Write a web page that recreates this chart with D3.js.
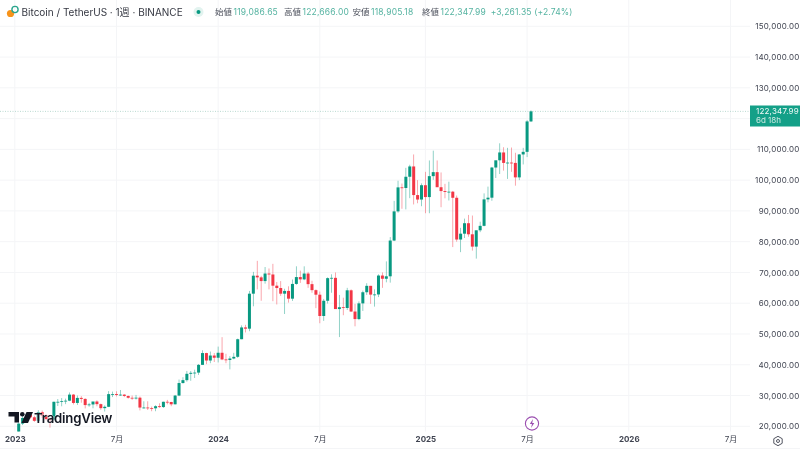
<!DOCTYPE html>
<html>
<head>
<meta charset="utf-8">
<script src="https://cdn.jsdelivr.net/npm/d3@7"></script>
<style>
  html, body { margin: 0; padding: 0; background: #fff; }
  svg { display: block; font-family: Inter, "Noto Sans CJK JP", sans-serif; filter: blur(0.5px); }
</style>
</head>
<body>
<div id="chart"></div>
<script>
// weekly candles, BTC/USDT
var weeks = [
  "2023-01-09","2023-01-16","2023-01-23","2023-01-30","2023-02-06","2023-02-13","2023-02-20","2023-02-27",
  "2023-03-06","2023-03-13","2023-03-20","2023-03-27","2023-04-03","2023-04-10","2023-04-17","2023-04-24",
  "2023-05-01","2023-05-08","2023-05-15","2023-05-22","2023-05-29","2023-06-05","2023-06-12","2023-06-19",
  "2023-06-26","2023-07-03","2023-07-10","2023-07-17","2023-07-24","2023-07-31","2023-08-07","2023-08-14",
  "2023-08-21","2023-08-28","2023-09-04","2023-09-11","2023-09-18","2023-09-25","2023-10-02","2023-10-09",
  "2023-10-16","2023-10-23","2023-10-30","2023-11-06","2023-11-13","2023-11-20","2023-11-27","2023-12-04",
  "2023-12-11","2023-12-18","2023-12-25",
  "2024-01-01","2024-01-08","2024-01-15","2024-01-22","2024-01-29","2024-02-05","2024-02-12","2024-02-19",
  "2024-02-26","2024-03-04","2024-03-11","2024-03-18","2024-03-25","2024-04-01","2024-04-08","2024-04-15",
  "2024-04-22","2024-04-29","2024-05-06","2024-05-13","2024-05-20","2024-05-27","2024-06-03","2024-06-10",
  "2024-06-17","2024-06-24","2024-07-01","2024-07-08","2024-07-15","2024-07-22","2024-07-29","2024-08-05",
  "2024-08-12","2024-08-19","2024-08-26","2024-09-02","2024-09-09","2024-09-16","2024-09-23","2024-09-30",
  "2024-10-07","2024-10-14","2024-10-21","2024-10-28","2024-11-04","2024-11-11","2024-11-18","2024-11-25",
  "2024-12-02","2024-12-09","2024-12-16","2024-12-23","2024-12-30",
  "2025-01-06","2025-01-13","2025-01-20","2025-01-27","2025-02-03","2025-02-10","2025-02-17","2025-02-24",
  "2025-03-03","2025-03-10","2025-03-17","2025-03-24","2025-03-31","2025-04-07","2025-04-14","2025-04-21",
  "2025-04-28","2025-05-05","2025-05-12","2025-05-19","2025-05-26","2025-06-02","2025-06-09","2025-06-16",
  "2025-06-23","2025-06-30","2025-07-07","2025-07-14"
];
var opens = [
  17127,20871,22707,23743,22930,21780,24631,23554,22350,22150,27968,27970,28170,28325,30300,27590,
  29230,28900,26900,27100,28060,27200,25900,26340,30460,30470,30170,30290,29860,29270,29050,29300,
  26090,26100,25880,25850,26530,26250,27970,27900,27150,29990,34060,35000,37060,37380,37450,39970,
  43800,41380,43000,
  42280,43900,41730,41550,42030,42580,48300,52130,51730,63100,68950,68400,67200,69650,69340,65700,
  64940,63100,64000,61480,66270,68500,67750,69650,66200,64250,62770,55850,60800,68150,68250,58100,
  58700,58450,64200,57300,54850,59950,63570,65650,62800,62850,69000,67950,68750,80370,89850,97650,
  97450,101100,104450,95150,93700,
  98350,94500,101300,102600,97700,96450,96150,96250,94270,80700,82600,86000,82400,78400,83700,85150,
  93750,94300,104100,106450,109000,105600,105700,105600,100900,108350,109200,119086
];
var highs = [
  21258,23371,23816,24255,23440,25250,25130,23880,22600,28000,28868,29190,29000,31000,30500,30000,
  29800,29100,27600,27500,28450,27400,26800,31431,31280,31380,31800,30450,29990,30000,30200,29680,
  28140,28140,26400,26840,27480,28000,28580,27950,30200,35200,35950,38000,37970,38400,40250,44700,
  43900,44300,43800,
  45900,48970,43570,42800,43880,48500,52800,52980,64000,70200,73777,68900,71770,71300,72800,66900,
  67200,64700,65500,67700,72000,70600,72000,70200,67300,64500,63800,61400,68400,69400,70000,62700,
  61800,65000,64500,59800,60600,64100,66500,65650,64500,69400,70000,73600,81500,93265,99800,98900,
  104000,105000,108353,100000,98950,
  102700,106400,109588,106400,102500,98800,99500,96500,95000,84500,87500,88700,88500,83600,86500,95700,
  97900,104300,105800,111980,110700,110500,110600,108900,108500,110500,119500,122666
];
var lows = [
  17100,20407,22292,22500,21451,21350,22700,21970,19569,21900,26600,26500,27200,28170,27100,26942,
  27666,25811,26350,25850,26500,25350,24800,26250,29500,29700,29900,29500,29000,28585,28700,25166,
  25800,25300,24900,24900,26000,26000,27150,26540,27110,29800,33900,34500,34800,35700,36700,39970,
  40200,40500,40900,
  40750,41500,40500,38500,41800,42250,48300,50500,50900,59000,64500,60800,66350,64500,60660,59600,
  62400,56500,60200,60750,66000,66600,67500,65000,63400,58400,53500,54260,59900,63400,61100,49000,
  56100,57800,57200,52500,54500,57500,62700,59800,58900,62000,65000,66800,66700,80200,89400,90700,
  90500,94150,92100,92500,91530,
  89250,89250,100100,97800,91200,94100,93400,78250,80000,76600,81200,81600,77100,74500,83100,85000,
  92800,93300,100700,102000,103100,100400,102700,98200,100000,105100,107500,118905
];
var closes = [
  20871,22707,23743,22930,21780,24631,23554,22350,22150,27968,27970,28170,28325,30300,27590,29230,
  28900,26900,27100,28060,27200,25900,26340,30460,30470,30170,30290,29860,29270,29050,29300,26090,
  26100,25880,25850,26530,26250,27970,27900,27150,29990,34060,35000,37060,37380,37450,39970,43800,
  41380,43000,42280,
  43900,41730,41550,42030,42580,48300,52130,51730,63100,68950,68400,67200,69650,69340,65700,64940,
  63100,64000,61480,66270,68500,67750,69650,66200,64250,62770,55850,60800,68150,68250,58100,58700,
  58450,64200,57300,54850,59950,63570,65650,62800,62850,69000,67950,68750,80370,89850,97650,97450,
  101100,104450,95150,93700,98350,
  94500,101300,102600,97700,96450,96150,96250,94270,80700,82600,86000,82400,78400,83700,85150,93750,
  94300,104100,106450,109000,105600,105700,105600,100900,108350,109200,119086,122348
];
var priceTicks = [20000,30000,40000,50000,60000,70000,80000,90000,100000,110000,120000,130000,140000,150000];
var timeTicks = ["2023-01-02","2023-07-03","2024-01-01","2024-07-01","2025-01-06","2025-07-07","2026-01-05","2026-07-06"];
var timeLabels = ["2023","7月","2024","7月","2025","7月","2026","7月"];
var legendLabels = ["始値","高値","安値","終値"];
var legendValues = ["119,086.65","122,666.00","118,905.18","122,347.99"];
var lastClose = "122,347.99";

var width = 800;
var height = 450;
var upColor = "#089981";
var downColor = "#f23645";
var gridColor = "#f4f5f7";

var parse = d3.utcParse("%Y-%m-%d");

var x = d3.scaleUtc()
  .domain([parse(weeks[0]), parse(weeks[weeks.length - 1])])
  .range([18.7, 531]);

var y = d3.scaleLinear()
  .domain([20000, 150000])
  .range([426.3, 26.3]);

var svg = d3.select("#chart").append("svg")
  .attr("width", width)
  .attr("height", height);

svg.append("rect").attr("width", width).attr("height", height).attr("fill", "#fff");

svg.append("clipPath").attr("id", "plot")
  .append("rect").attr("width", 750).attr("height", 431.5);

// grid
svg.append("g").selectAll("line").data(priceTicks).enter().append("line")
  .attr("x1", 0).attr("x2", 750)
  .attr("y1", function (d) { return y(d); })
  .attr("y2", function (d) { return y(d); })
  .attr("stroke", gridColor);

svg.append("g").selectAll("line").data(timeTicks).enter().append("line")
  .attr("x1", function (d) { return x(parse(d)); })
  .attr("x2", function (d) { return x(parse(d)); })
  .attr("y1", 0).attr("y2", 431.5)
  .attr("stroke", gridColor);

// bottom edge of the time scale
svg.append("line").attr("x1", 0).attr("x2", width).attr("y1", 448.5).attr("y2", 448.5).attr("stroke", gridColor);

// last price line
svg.append("line")
  .attr("x1", 0).attr("x2", 750)
  .attr("y1", y(122348)).attr("y2", y(122348))
  .attr("stroke", "#a9cfc7").attr("stroke-width", 0.8)
  .attr("stroke-dasharray", "1 1.5");

// candles
var candles = svg.append("g").attr("clip-path", "url(#plot)")
  .selectAll("g").data(weeks).enter().append("g")
  .attr("fill", function (d, i) { return closes[i] >= opens[i] ? upColor : downColor; });

candles.append("rect")
  .attr("x", function (d) { return x(parse(d)) - 0.4; })
  .attr("width", 0.8)
  .attr("y", function (d, i) { return y(highs[i]); })
  .attr("height", function (d, i) { return y(lows[i]) - y(highs[i]); })
  .attr("opacity", 0.55);

candles.append("rect")
  .attr("x", function (d) { return x(parse(d)) - 1.5; })
  .attr("width", 3)
  .attr("y", function (d, i) { return y(Math.max(opens[i], closes[i])); })
  .attr("height", function (d, i) { return Math.max(0.8, Math.abs(y(opens[i]) - y(closes[i]))); });

// price axis
var yAxis = svg.append("g")
  .attr("transform", "translate(799.5,0)")
  .call(d3.axisRight(y).tickValues(priceTicks.filter(function (d) { return d != 120000; }))
    .tickSize(0).tickFormat(d3.format(",.2f")));
yAxis.select(".domain").remove();
yAxis.selectAll("text")
  .attr("x", 0)
  .attr("text-anchor", "end")
  .style("font-family", "Inter, sans-serif")
  .style("font-size", "8px")
  .style("letter-spacing", "0.2px")
  .attr("fill", "#3f4350");

// time axis
var xAxis = svg.append("g")
  .attr("transform", "translate(0,431)")
  .call(d3.axisBottom(x).tickValues(timeTicks.map(parse)).tickSize(0)
    .tickFormat(function (d, i) { return timeLabels[i]; }));
xAxis.select(".domain").remove();
xAxis.selectAll("text")
  .attr("y", 5)
  .style("font-family", 'Inter, "Noto Sans CJK JP", sans-serif')
  .style("font-size", "8px")
  .style("font-weight", function (d, i) { return timeLabels[i].length == 4 ? 700 : 400; })
  .attr("fill", "#3f4350");

// last price badge
svg.append("rect").attr("x", 750).attr("y", 105.5).attr("width", 50).attr("height", 21).attr("fill", "#14a088");
svg.append("text").attr("x", 756).attr("y", 114).attr("fill", "#f2faf8")
  .style("font-size", "8px").style("letter-spacing", "0.2px").text(lastClose);
svg.append("text").attr("x", 756).attr("y", 123).attr("fill", "#cfe9e3")
  .style("font-size", "8px").text("6d 18h");

// header
svg.append("circle").attr("cx", 10.5).attr("cy", 13.5).attr("r", 3.6).attr("fill", "#f7931a");
svg.append("circle").attr("cx", 15).attr("cy", 9.5).attr("r", 3.1).attr("fill", "none").attr("stroke", "#2aa58d").attr("stroke-width", 1.4);
svg.append("text").attr("x", 21.5).attr("y", 15.8)
  .style("font-size", "10px").attr("fill", "#333640").text("Bitcoin / TetherUS · 1週 · BINANCE");
svg.append("circle").attr("cx", 198.5).attr("cy", 12).attr("r", 5).attr("fill", "#e2f3ef");
svg.append("circle").attr("cx", 198.5).attr("cy", 12).attr("r", 2).attr("fill", upColor);

var legendX = [215, 284, 352.5, 422];
var legend = svg.append("g").selectAll("g").data(legendLabels).enter().append("g")
  .style("font-size", "8.5px");
legend.append("text").attr("x", function (d, i) { return legendX[i]; }).attr("y", 15)
  .attr("fill", "#4a4e5a").text(function (d) { return d; });
legend.append("text").attr("x", function (d, i) { return legendX[i] + 18.5; }).attr("y", 15)
  .style("letter-spacing", "0.2px")
  .attr("fill", "#55b3a1").text(function (d, i) { return legendValues[i]; });
svg.append("text").attr("x", 490.7).attr("y", 15).style("font-size", "8.5px").style("letter-spacing", "0.15px").attr("fill", "#55b3a1")
  .text("+3,261.35 (+2.74%)");

// watermark
var logo = svg.append("g").attr("transform", "translate(8.5,412)");
logo.append("path").attr("d", "M0 0H10.5V10.5H6V4.5H0Z").attr("fill", "#131722");
logo.append("circle").attr("cx", 13.8).attr("cy", 2.3).attr("r", 2.3).attr("fill", "#131722");
logo.append("path").attr("d", "M18 0H24.5L19.5 11H13Z").attr("fill", "#131722");
logo.append("text").attr("x", 25.5).attr("y", 10.6)
  .style("font-size", "13.2px").style("font-weight", 600).style("letter-spacing", "-0.2px")
  .attr("fill", "#131722").attr("stroke", "#fff").attr("stroke-width", 0.4).attr("paint-order", "stroke")
  .text("TradingView");

// event marker
svg.append("circle").attr("cx", 532).attr("cy", 423.5).attr("r", 6.6)
  .attr("fill", "#fff").attr("stroke", "#9b4fb0").attr("stroke-width", 1.1);
svg.append("path").attr("d", "M533 419L529.8 424H532L531 428L534.3 423H532.2Z").attr("fill", "#9b4fb0");

// settings icon
svg.append("path").attr("d", "M778 436.3L782.2 438.7V443.3L778 445.7L773.8 443.3V438.7Z")
  .attr("fill", "none").attr("stroke", "#3f4350").attr("stroke-width", 0.9);
svg.append("circle").attr("cx", 778).attr("cy", 441).attr("r", 1.5)
  .attr("fill", "none").attr("stroke", "#3f4350").attr("stroke-width", 0.9);
</script>
</body>
</html>
